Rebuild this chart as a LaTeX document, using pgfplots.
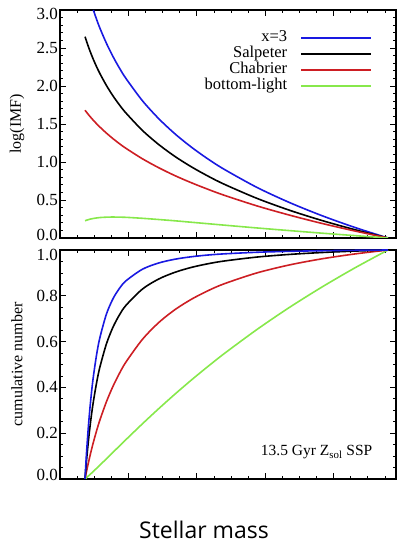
\documentclass[border=0pt]{standalone}
\usepackage{pgfplots}
\pgfplotsset{compat=1.18}
\usepackage{pgfplotstable}
\usepackage{fontspec}
\setmainfont{Liberation Serif}
\newfontfamily\slidesans{Open Sans}

\definecolor{imfblue}{RGB}{25,25,225}
\definecolor{imfred}{RGB}{205,30,35}
\definecolor{imfgreen}{RGB}{135,232,75}

% shift a tick label's ink without changing its box
\newcommand{\nudge}[2]{\raisebox{#1}[\height][\depth]{#2}}

% log of the IMF, normalised to zero at the upper mass limit
\pgfplotstableread{
m      xthree  salp   chab   blight
0.0746 nan     2.649  1.681  0.227
0.08   nan     2.578  1.651  0.235
0.09   nan     2.458  1.598  0.248
0.1    3.000   2.350  1.549  0.257
0.11   2.876   2.253  1.503  0.264
0.12   2.762   2.164  1.460  0.269
0.14   2.562   2.007  1.380  0.274
0.16   2.388   1.870  1.307  0.276
0.18   2.234   1.750  1.240  0.274
0.2    2.097   1.643  1.179  0.272
0.25   1.806   1.415  1.042  0.259
0.3    1.569   1.229  0.924  0.243
0.35   1.368   1.071  0.819  0.226
0.4    1.194   0.935  0.726  0.207
0.45   1.040   0.815  0.641  0.188
0.5    0.903   0.707  0.562  0.169
0.6    0.665   0.521  0.422  0.132
0.7    0.465   0.364  0.300  0.097
0.8    0.291   0.228  0.190  0.063
0.9    0.137   0.108  0.091  0.031
1.0    0       0      0      0
}\imftable

% cumulative number fraction
\pgfplotstableread{
m      cx      csalp   cchab   cbl
0.0746 0       0       0       0
0.0755 0.0238  0.0164  0.0065  0.0011
0.077  0.0618  0.0431  0.0172  0.0030
0.08   0.1312  0.0930  0.0383  0.0069
0.085  0.2311  0.1665  0.0712  0.0133
0.09   0.3147  0.2307  0.1023  0.0198
0.095  0.3856  0.2871  0.1319  0.0264
0.1    0.4460  0.3367  0.1597  0.0331
0.11   0.5431  0.4205  0.2109  0.0467
0.12   0.6170  0.4884  0.2572  0.0605
0.14   0.7201  0.5901  0.3373  0.0883
0.16   0.7870  0.6629  0.4046  0.1164
0.18   0.8329  0.7171  0.4620  0.1445
0.2    0.8657  0.7587  0.5114  0.1724
0.25   0.9160  0.8295  0.6098  0.2411
0.3    0.9434  0.8735  0.6834  0.3075
0.35   0.9599  0.9030  0.7402  0.3714
0.4    0.9706  0.9242  0.7852  0.4328
0.45   0.9780  0.9399  0.8220  0.4914
0.5    0.9832  0.9520  0.8527  0.5477
0.6    0.9901  0.9692  0.9001  0.6531
0.7    0.9942  0.9808  0.9351  0.7502
0.8    0.9969  0.9891  0.9619  0.8397
0.9    0.9987  0.9953  0.9830  0.9228
1.0    1       1       1       1
}\cumtable

\pgfplotsset{
  massaxis/.style={
    scale only axis,
    width=336pt,
    xmin=-0.0018, xmax=1.0245,
    xtick={-0.0018,0.2071,0.4160,0.6249,0.8338},
    minor xtick={0.0504,0.1026,0.1549,0.2593,0.3115,0.3638,0.4682,0.5204,0.5727,0.6771,0.7294,0.7816,0.8860,0.9383,0.9905},
    xticklabels={},
    tick align=inside,
    major tick length=6pt,
    minor tick length=3pt,
    every major tick/.append style={line width=0.8pt, black},
    every minor tick/.append style={line width=0.7pt, black},
    axis line style={line width=1.4pt},
    tick label style={font=\fontsize{17}{19}\selectfont},
    yticklabel style={inner sep=2pt},
    ylabel style={at={(axis description cs:-0.128,0.5)}, anchor=center, font=\fontsize{16}{18}\selectfont},
    every axis plot/.append style={line width=1.6pt, smooth},
  },
  legendline/.style={
    legend image code/.code={\draw[##1] (0pt,0pt) -- (70pt,0pt);},
  },
}

\begin{document}
\begin{tikzpicture}
\useasboundingbox (0,0) rectangle (400pt,543pt);

\begin{axis}[
  massaxis,
  legendline,
  at={(60pt,305pt)}, anchor=south west,
  height=228pt,
  ymin=0, ymax=3,
  ytick={0,0.5,...,3},
  yticklabels={\nudge{3pt}{0.0},0.5,1.0,1.5,2.0,2.5,\nudge{-4pt}{3.0}},
  minor y tick num=4,
  ylabel={log(IMF)},
  legend plot pos=right,
  legend cell align=right,
  legend style={at={(axis description cs:0.9375,0.921)}, anchor=north east,
    draw=none, fill=none, font=\fontsize{16.5}{17}\selectfont,
    nodes={inner sep=0pt, text height=11pt, text depth=5pt},
    column sep=13pt, row sep=0pt},
]
\addplot[imfblue] table[x=m, y=xthree] {\imftable};
\addlegendentry{x=3}
\addplot[black] table[x=m, y=salp] {\imftable};
\addlegendentry{Salpeter}
\addplot[imfred] table[x=m, y=chab] {\imftable};
\addlegendentry{Chabrier}
\addplot[imfgreen] table[x=m, y=blight] {\imftable};
\addlegendentry{bottom-light}
\end{axis}

\begin{axis}[
  massaxis,
  at={(60pt,64pt)}, anchor=south west,
  height=229pt,
  ymin=0, ymax=1,
  ytick={0,0.2,...,1},
  yticklabels={\nudge{4pt}{0.0},0.2,0.4,0.6,0.8,\nudge{-5pt}{1.0}},
  minor y tick num=3,
  ylabel={cumulative number},
]
\addplot[imfgreen] table[x=m, y=cbl] {\cumtable};
\addplot[imfred] table[x=m, y=cchab] {\cumtable};
\addplot[black] table[x=m, y=csalp] {\cumtable};
\addplot[imfblue] table[x=m, y=cx] {\cumtable};
\node[anchor=east, font=\fontsize{15.5}{18}\selectfont] at (axis description cs:0.94,0.118)
  {13.5 Gyr Z\textsubscript{sol} SSP};
\end{axis}

\node[anchor=base, font=\slidesans\fontsize{23}{26}\selectfont] at (204pt,5pt) {Stellar mass};
\end{tikzpicture}
\end{document}
